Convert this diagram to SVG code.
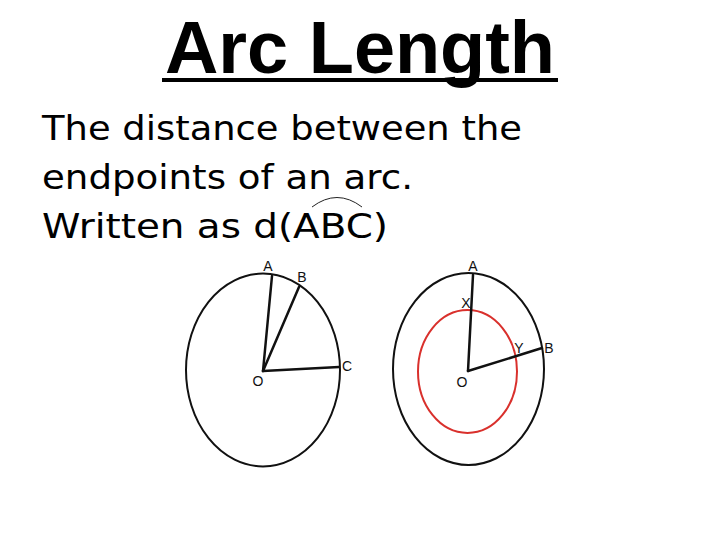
<svg xmlns="http://www.w3.org/2000/svg" width="720" height="540" viewBox="0 0 720 540">
<style>
.title{font-family:"Liberation Sans",Arial,sans-serif;font-weight:bold;font-size:74px;fill:#000}
.body{font-family:"Comic Sans MS","DejaVu Sans","Noto Sans",sans-serif;font-size:34px;fill:#000}
.lbl{font-family:"Liberation Sans",Arial,sans-serif;font-size:14px;fill:#111;text-anchor:middle}
.circ{fill:none;stroke:#111;stroke-width:2}
.red{fill:none;stroke:#d9302c;stroke-width:2}
.rad{stroke:#111;stroke-width:2.5;stroke-linecap:round}
</style>
<rect width="720" height="540" fill="#fff"/>
<g id="title">
<text class="title" x="165" y="73" textLength="390" lengthAdjust="spacingAndGlyphs">Arc Length</text>
<rect x="162" y="78" width="396" height="4" fill="#000"/>
</g>
<g id="definition">
<text class="body" x="42" y="140" textLength="480" lengthAdjust="spacingAndGlyphs">The distance between the</text>
<text class="body" x="42" y="189" textLength="371" lengthAdjust="spacingAndGlyphs">endpoints of an arc.</text>
<text class="body" x="42" y="238" textLength="346" lengthAdjust="spacingAndGlyphs">Written as d(ABC)</text>
<path d="M312,207 Q337,188 362,207" fill="none" stroke="#222" stroke-width="1"/>
</g>
<g id="circle-left">
<ellipse class="circ" cx="263" cy="370" rx="77" ry="96.5"/>
<line class="rad" x1="263" y1="371" x2="272" y2="276"/>
<line class="rad" x1="263" y1="371" x2="299" y2="287"/>
<line class="rad" x1="263" y1="371" x2="339" y2="367"/>
<text class="lbl" x="268" y="271">A</text>
<text class="lbl" x="302" y="282">B</text>
<text class="lbl" x="347" y="371">C</text>
<text class="lbl" x="258" y="386">O</text>
</g>
<g id="circle-right">
<ellipse class="circ" cx="468.5" cy="369" rx="75.5" ry="96"/>
<ellipse class="red" cx="467.5" cy="371.5" rx="49.5" ry="61.5"/>
<line class="rad" x1="468" y1="371" x2="473" y2="275"/>
<line class="rad" x1="468" y1="371" x2="542" y2="348"/>
<text class="lbl" x="473" y="271">A</text>
<text class="lbl" x="466" y="308">X</text>
<text class="lbl" x="519" y="353">Y</text>
<text class="lbl" x="549" y="353">B</text>
<text class="lbl" x="462" y="387">O</text>
</g>
</svg>
